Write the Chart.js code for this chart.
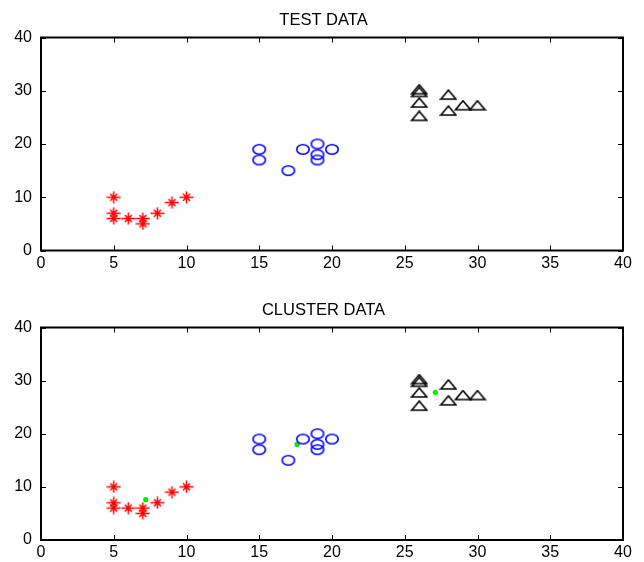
<!DOCTYPE html>
<html lang="en">

<head>
  <meta charset="UTF-8" />
  <title>Clustering</title>
  <style>
    * {
      box-sizing: border-box;
      margin: 0;
      padding: 0;
    }

    html,
    body {
      width: 644px;
      height: 562px;
      background: #fff;
      overflow: hidden;
    }

    .panel {
      position: absolute;
      left: 0;
      width: 644px;
    }

    #top {
      top: 0;
      height: 290px;
    }

    #bottom {
      top: 290px;
      height: 272px;
    }
  </style>
  <script src="https://cdn.jsdelivr.net/npm/chart.js@4/dist/chart.umd.min.js"></script>
</head>

<body>
  <div id="top" class="panel"><canvas id="testChart"></canvas></div>
  <div id="bottom" class="panel"><canvas id="clusterChart"></canvas></div>

  <script>
    // group 1 (red stars)
    const redX = [5, 5, 5, 6, 7, 7, 8, 9, 10];
    const redY = [10, 7, 6, 6, 6, 5, 7, 9, 10];
    // group 2 (blue circles)
    const blueX = [15, 15, 17, 18, 19, 19, 19, 20];
    const blueY = [19, 17, 15, 19, 20, 18, 17, 19];
    // group 3 (black triangles)
    const blackX = [26, 26, 26, 26, 28, 28, 29, 30];
    const blackY = [30, 29.5, 27.5, 25, 29, 26, 27, 27];
    // cluster centres (green dots)
    const centerX = [7.2, 17.6, 27.1];
    const centerY = [7.6, 18, 27.8];

    const xTicks = [0, 5, 10, 15, 20, 25, 30, 35, 40];
    const yTicks = [0, 10, 20, 30, 40];

    const pts = (xs, ys) => xs.map((x, i) => ({ x, y: ys[i] }));

    // small canvases used as point styles
    function marker(w, h, draw) {
      const c = document.createElement('canvas');
      c.width = w; c.height = h;
      const g = c.getContext('2d');
      draw(g);
      return c;
    }

    const starMark = marker(15, 13, g => {
      g.strokeStyle = '#ff0000';
      g.lineWidth = 1.5;
      g.beginPath();
      g.moveTo(0.5, 6.5); g.lineTo(14.5, 6.5);
      g.moveTo(7.5, 0.5); g.lineTo(7.5, 12.5);
      g.moveTo(4, 3); g.lineTo(11, 10);
      g.moveTo(11, 3); g.lineTo(4, 10);
      g.stroke();
    });

    const ringMark = marker(16, 13, g => {
      g.strokeStyle = '#0000ff';
      g.lineWidth = 1.6;
      g.beginPath();
      g.ellipse(8, 6.5, 6.2, 4.7, 0, 0, Math.PI * 2);
      g.stroke();
    });

    const triMark = marker(18, 14, g => {
      g.strokeStyle = '#000';
      g.lineWidth = 1.6;
      g.beginPath();
      g.moveTo(9, 1);
      g.lineTo(16.5, 10);
      g.lineTo(1.5, 10);
      g.closePath();
      g.stroke();
    });

    const font = { family: '"Liberation Sans", Arial, sans-serif', size: 16 };

    // frame with inward tick marks on all four sides, plus the panel title
    const boxTicks = {
      id: 'boxTicks',
      afterDraw(chart, args, opts) {
        const { ctx, chartArea: a, scales } = chart;
        const len = 5;
        ctx.save();
        ctx.strokeStyle = '#000';
        ctx.lineWidth = 1;
        ctx.beginPath();
        scales.x.ticks.forEach(t => {
          const px = Math.round(scales.x.getPixelForValue(t.value)) + 0.5;
          ctx.moveTo(px, a.bottom); ctx.lineTo(px, a.bottom - len);
          ctx.moveTo(px, a.top); ctx.lineTo(px, a.top + len);
        });
        scales.y.ticks.forEach(t => {
          const py = Math.round(scales.y.getPixelForValue(t.value)) + 0.5;
          ctx.moveTo(a.left, py); ctx.lineTo(a.left + len, py);
          ctx.moveTo(a.right, py); ctx.lineTo(a.right - len, py);
        });
        ctx.stroke();
        ctx.lineWidth = 2;
        ctx.strokeRect(a.left, a.top, a.right - a.left, a.bottom - a.top);

        ctx.fillStyle = '#000';
        ctx.font = `16.5px ${font.family}`;
        ctx.textAlign = 'center';
        ctx.textBaseline = 'middle';
        ctx.fillText(opts.text, 323.5, 20);
        ctx.restore();
      }
    };

    function makeChart(id, title, xAxisHeight, withCentres) {
      const datasets = [
        { data: pts(redX, redY), pointStyle: starMark },
        { data: pts(blueX, blueY), pointStyle: ringMark },
        { data: pts(blackX, blackY), pointStyle: triMark }
      ];
      if (withCentres) {
        datasets.push({
          data: pts(centerX, centerY),
          pointStyle: 'circle',
          pointRadius: 2.6,
          backgroundColor: '#00ee00',
          borderWidth: 0
        });
      }
      return new Chart(document.getElementById(id), {
        type: 'scatter',
        data: { datasets },
        options: {
          animation: false,
          responsive: true,
          maintainAspectRatio: false,
          layout: { padding: { left: 0, right: 21, top: 37.5, bottom: 0 } },
          scales: {
            x: {
              type: 'linear',
              min: 0,
              max: 40,
              afterBuildTicks: s => { s.ticks = xTicks.map(v => ({ value: v })); },
              afterFit: s => { s.height = xAxisHeight; },
              ticks: { color: '#000', font, padding: 3, maxRotation: 0 },
              grid: { display: false, drawTicks: false, tickLength: 0 },
              border: { display: false }
            },
            y: {
              type: 'linear',
              min: 0,
              max: 40,
              afterBuildTicks: s => { s.ticks = yTicks.map(v => ({ value: v })); },
              afterFit: s => { s.width = 41; },
              ticks: { color: '#000', font, padding: 9 },
              grid: { display: false, drawTicks: false, tickLength: 0 },
              border: { display: false }
            }
          },
          plugins: {
            legend: { display: false },
            tooltip: { enabled: false },
            title: { display: false },
            boxTicks: { text: title }
          }
        },
        plugins: [boxTicks]
      });
    }

    makeChart('testChart', 'TEST DATA', 39.5, false);
    makeChart('clusterChart', 'CLUSTER DATA', 22, true);
  </script>
</body>

</html>
